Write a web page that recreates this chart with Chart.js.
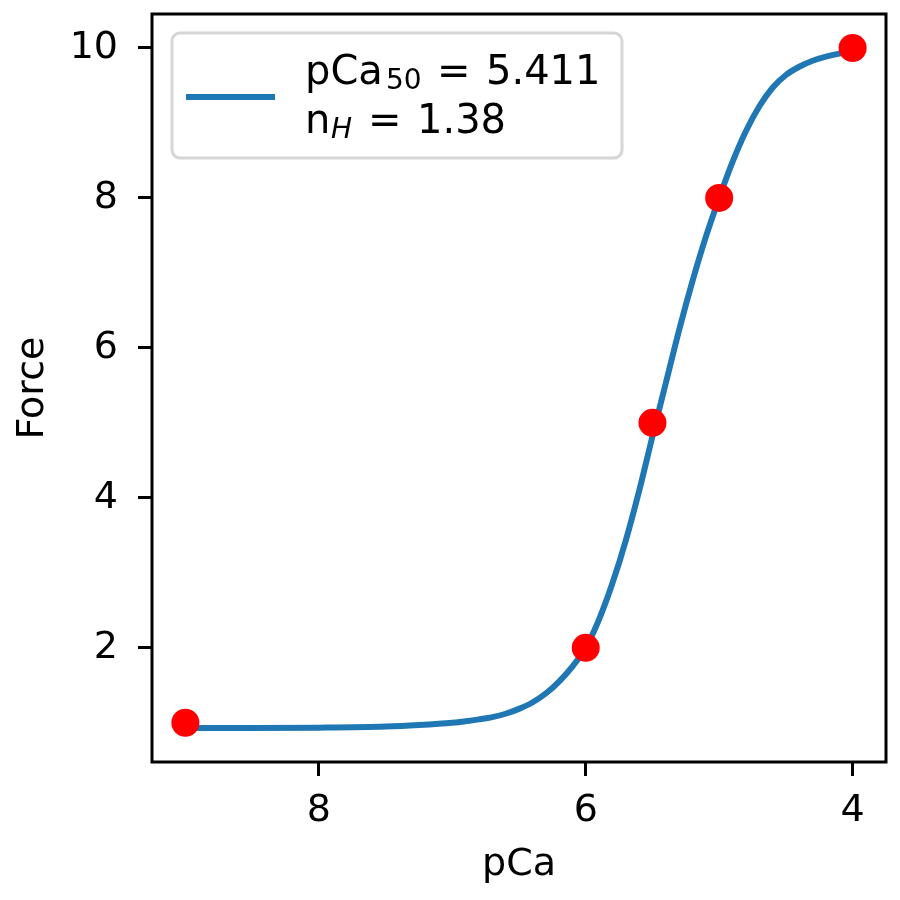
<!DOCTYPE html>
<html><head><meta charset="utf-8">
<script src="https://cdn.jsdelivr.net/npm/chart.js@4.4.1/dist/chart.umd.min.js"></script>
<style>html,body{margin:0;padding:0;background:#fff}canvas{display:block}</style>
</head><body>
<canvas id="c" width="900" height="900"></canvas>
<script>
// measured data points
const pointsX = [9, 6, 5.5, 5, 4];
const pointsY = [1, 2, 5, 8, 10];
// fitted curve
const curveX = [9.0, 8.5, 8.0, 7.5, 7.25, 7.0, 6.9, 6.8, 6.7, 6.6, 6.5, 6.4, 6.3, 6.2, 6.1, 6.0, 5.9, 5.8, 5.7, 5.6, 5.5, 5.4, 5.3, 5.2, 5.1, 5.0, 4.9, 4.8, 4.7, 4.6, 4.5, 4.4, 4.3, 4.2, 4.1, 4.0];
const curveY = [0.93, 0.93, 0.935, 0.95, 0.97, 1.00, 1.02, 1.045, 1.075, 1.12, 1.185, 1.27, 1.39, 1.55, 1.75, 2.00, 2.38, 2.86, 3.43, 4.09, 4.82, 5.53, 6.24, 6.89, 7.48, 8.00, 8.48, 8.89, 9.22, 9.47, 9.64, 9.75, 9.83, 9.885, 9.925, 9.955];
const xTicks = [8, 6, 4];
const yTicks = [2, 4, 6, 8, 10];
const xTitle = 'pCa';
const yTitle = 'Force';
const legendLine1 = ['pCa', '50', '=', '5.411'];
const legendLine2 = ['n', 'H', '=', '1.38'];

const FONT = 'DejaVu Sans';
const FS = 38;

const framePlugin = {
  id: 'frameLegend',
  afterDraw(chart) {
    const ctx = chart.ctx, a = chart.chartArea;
    ctx.save();
    ctx.strokeStyle = '#000';
    ctx.lineWidth = 3;
    ctx.strokeRect(a.left, a.top, a.right - a.left, a.bottom - a.top);
    // legend box
    const bx = 172, by = 33, bw = 450, bh = 125, r = 8;
    ctx.beginPath();
    ctx.roundRect(bx, by, bw, bh, r);
    ctx.fillStyle = 'rgba(255,255,255,0.8)';
    ctx.fill();
    ctx.strokeStyle = '#d6d6d6';
    ctx.lineWidth = 3;
    ctx.stroke();
    // legend handle
    ctx.beginPath();
    ctx.moveTo(186, 97); ctx.lineTo(275, 97);
    ctx.strokeStyle = '#1f77b4';
    ctx.lineWidth = 6;
    ctx.stroke();
    // legend text
    ctx.fillStyle = '#000';
    ctx.textBaseline = 'alphabetic';
    ctx.textAlign = 'left';
    const big = '40px "' + FONT + '"';
    const drawLine = (parts, xs, y, subItalic) => {
      ctx.font = big;
      ctx.fillText(parts[0], xs[0], y);
      ctx.font = (subItalic ? 'italic ' : '') + '28px "' + FONT + '"';
      ctx.fillText(parts[1], xs[1], y + 5);
      ctx.font = big;
      ctx.fillText(parts[2], xs[2], y);
      ctx.fillText(parts[3], xs[3], y);
    };
    drawLine(legendLine1, [305, 386, 437, 486], 84, false);
    drawLine(legendLine2, [305, 331, 368, 417], 133, true);
    ctx.restore();
  }
};

new Chart(document.getElementById('c'), {
  type: 'scatter',
  data: {
    datasets: [
      {
        label: 'points',
        data: pointsX.map((x, i) => ({x, y: pointsY[i]})),
        backgroundColor: '#ff0000',
        borderWidth: 0,
        pointRadius: 14,
        pointHoverRadius: 14,
        order: 0
      },
      {
        label: 'fit',
        data: curveX.map((x, i) => ({x, y: curveY[i]})),
        showLine: true,
        borderColor: '#1f77b4',
        borderWidth: 6,
        pointRadius: 0,
        cubicInterpolationMode: 'monotone',
        fill: false,
        order: 1
      }
    ]
  },
  options: {
    responsive: false,
    animation: false,
    events: [],
    layout: { padding: { top: 12, right: 14, left: 0, bottom: 0 } },
    plugins: { legend: { display: false }, tooltip: { enabled: false } },
    scales: {
      x: {
        type: 'linear',
        reverse: true,
        min: 3.75,
        max: 9.25,
        afterBuildTicks: s => { s.ticks = xTicks.map(v => ({value: v})); },
        afterFit: s => { s.height = 138; s.paddingLeft = 0; s.paddingRight = 0; },
        grid: { drawOnChartArea: false, drawTicks: true, tickLength: 14, tickWidth: 3, tickColor: '#000' },
        border: { display: false },
        ticks: { color: '#000', padding: 12, font: { family: FONT, size: FS }, maxRotation: 0 },
        title: { display: true, text: xTitle, color: '#000', font: { family: FONT, size: FS }, padding: { top: 0, bottom: 12 } }
      },
      y: {
        type: 'linear',
        min: 0.4765,
        max: 10.4535,
        afterBuildTicks: s => { s.ticks = yTicks.map(v => ({value: v})); },
        afterFit: s => { s.width = 152; s.paddingTop = 0; s.paddingBottom = 0; },
        grid: { drawOnChartArea: false, drawTicks: true, tickLength: 14, tickWidth: 3, tickColor: '#000' },
        border: { display: false },
        ticks: { color: '#000', padding: 20, font: { family: FONT, size: FS } },
        title: { display: true, text: yTitle, color: '#000', font: { family: FONT, size: FS }, padding: { top: 10, bottom: 0 } }
      }
    }
  },
  plugins: [framePlugin]
});
</script>
</body></html>
